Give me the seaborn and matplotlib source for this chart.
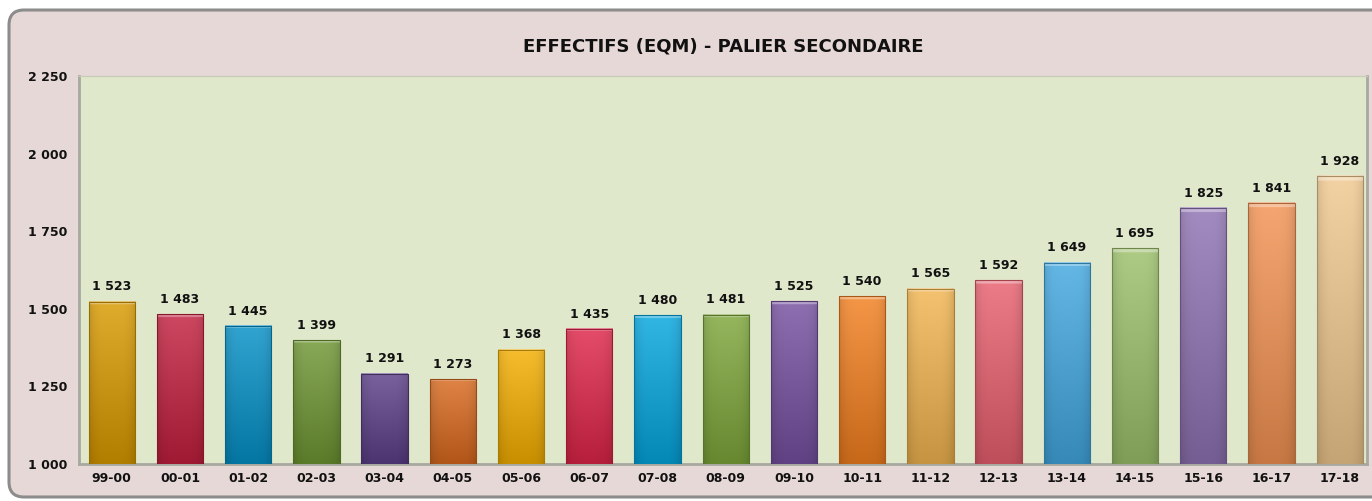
import numpy as np
import pandas as pd
import matplotlib
matplotlib.use("Agg")
import matplotlib.pyplot as plt
import seaborn as sns
from matplotlib.patches import FancyBboxPatch
from matplotlib.colors import to_rgb

categories = ["99-00", "00-01", "01-02", "02-03", "03-04", "04-05", "05-06", "06-07",
              "07-08", "08-09", "09-10", "10-11", "11-12", "12-13", "13-14", "14-15",
              "15-16", "16-17", "17-18"]
values = [1523, 1483, 1445, 1399, 1291, 1273, 1368, 1435, 1480, 1481, 1525, 1540,
          1565, 1592, 1649, 1695, 1825, 1841, 1928]
bar_colors = ["#D99A00", "#C21F3E", "#0590C6", "#6E9632", "#5C3F88", "#D8691E",
              "#F4AE00", "#DE2548", "#04A6DE", "#7EA63A", "#7550A0", "#F27F1E",
              "#F2B550", "#E8606E", "#42A8E0", "#9CC06A", "#8E72B2", "#F29252",
              "#F0C88E"]
title = "EFFECTIFS (EQM) - PALIER SECONDAIRE"
yticks = [1000, 1250, 1500, 1750, 2000, 2250]

df = pd.DataFrame({"annee": categories, "eqm": values})

sns.set_theme(style="white")
plt.rcParams["font.family"] = ["DejaVu Sans"]

W, H = 1372, 501
fig = plt.figure(figsize=(W / 100, H / 100), dpi=100)
fig.patch.set_facecolor("white")

# rounded outer frame
frame = FancyBboxPatch((9 / W, 4 / H), (W + 30) / W, (487) / H,
                       boxstyle="round,pad=0,rounding_size=0.011",
                       transform=fig.transFigure, facecolor="#E6D8D6",
                       edgecolor="#8C8C8C", linewidth=2.2, zorder=-5,
                       mutation_aspect=W / H)
fig.patches.append(frame)

ax = fig.add_axes([79 / W, (H - 464) / H, (1367 - 79) / W, (464 - 76) / H])
ax.set_zorder(1)
ax.set_facecolor("#E0E8CB")

ymin, ymax = 1000, 2250

sns.barplot(data=df, x="annee", y="eqm", hue="annee", palette=bar_colors,
            legend=False, width=0.68, ax=ax, saturation=1, edgecolor="none",
            zorder=2)

ax.set_ylim(ymin, ymax)
ax.set_xlim(-0.48, 18.4)
ax.set_yticks(yticks)
ax.set_yticklabels([f"{v:,}".replace(",", " ") for v in yticks],
                   fontsize=9, fontweight="bold", color="#111111")
ax.set_xticks(range(len(categories)))
ax.set_xticklabels(categories, fontsize=9, fontweight="bold", color="#111111")
ax.tick_params(axis="both", length=0, pad=6)
ax.tick_params(axis="y", pad=8.5)
ax.set_xlabel("")
ax.set_ylabel("")

for side in ["left", "bottom", "right"]:
    ax.spines[side].set_color("#A8A8A0")
    ax.spines[side].set_linewidth(2)
ax.spines["top"].set_color("#C8CCB8")
ax.spines["top"].set_linewidth(1)

# gradient shading on bars
grad = np.linspace(0, 1, 256)
hx = np.linspace(-1, 1, 64)
shade = 1 - 0.12 * np.abs(hx) ** 4
for patch, c in zip(list(ax.patches), bar_colors):
    x0 = patch.get_x()
    w = patch.get_width()
    ytop = patch.get_y() + patch.get_height()
    base = np.array(to_rgb(c))
    top = base + (1 - base) * 0.18
    bot = base * 0.82
    img = np.zeros((256, 64, 3))
    for k in range(3):
        img[:, :, k] = (top[k] + (bot[k] - top[k]) * grad)[:, None] * shade[None, :]
    # light rim at the top of the bar
    img[:5, :, :] = img[:5, :, :] + (1 - img[:5, :, :]) * 0.35
    img = np.clip(img, 0, 1)
    ax.imshow(img, extent=(x0, x0 + w, ymin, ytop), aspect="auto",
              origin="upper", zorder=3, interpolation="bilinear")
    patch.set_edgecolor(tuple(base * 0.7))
    patch.set_linewidth(0.8)
    patch.set_zorder(4)
    patch.set_facecolor("none")

ax.set_xlim(-0.48, 18.4)
ax.set_ylim(ymin, ymax)
ax.set_aspect("auto")

for i, v in enumerate(values):
    ax.annotate(f"{v:,}".replace(",", " "), (i, v), xytext=(0, 6),
                textcoords="offset points", ha="center", va="bottom",
                fontsize=9, fontweight="bold", color="#111111", zorder=5)

fig.text(723 / W, 1 - 47 / H, title, ha="center", va="center",
         fontsize=13, fontweight="bold", color="#111111")

fig.savefig("out.png", dpi=100, facecolor=fig.get_facecolor())
